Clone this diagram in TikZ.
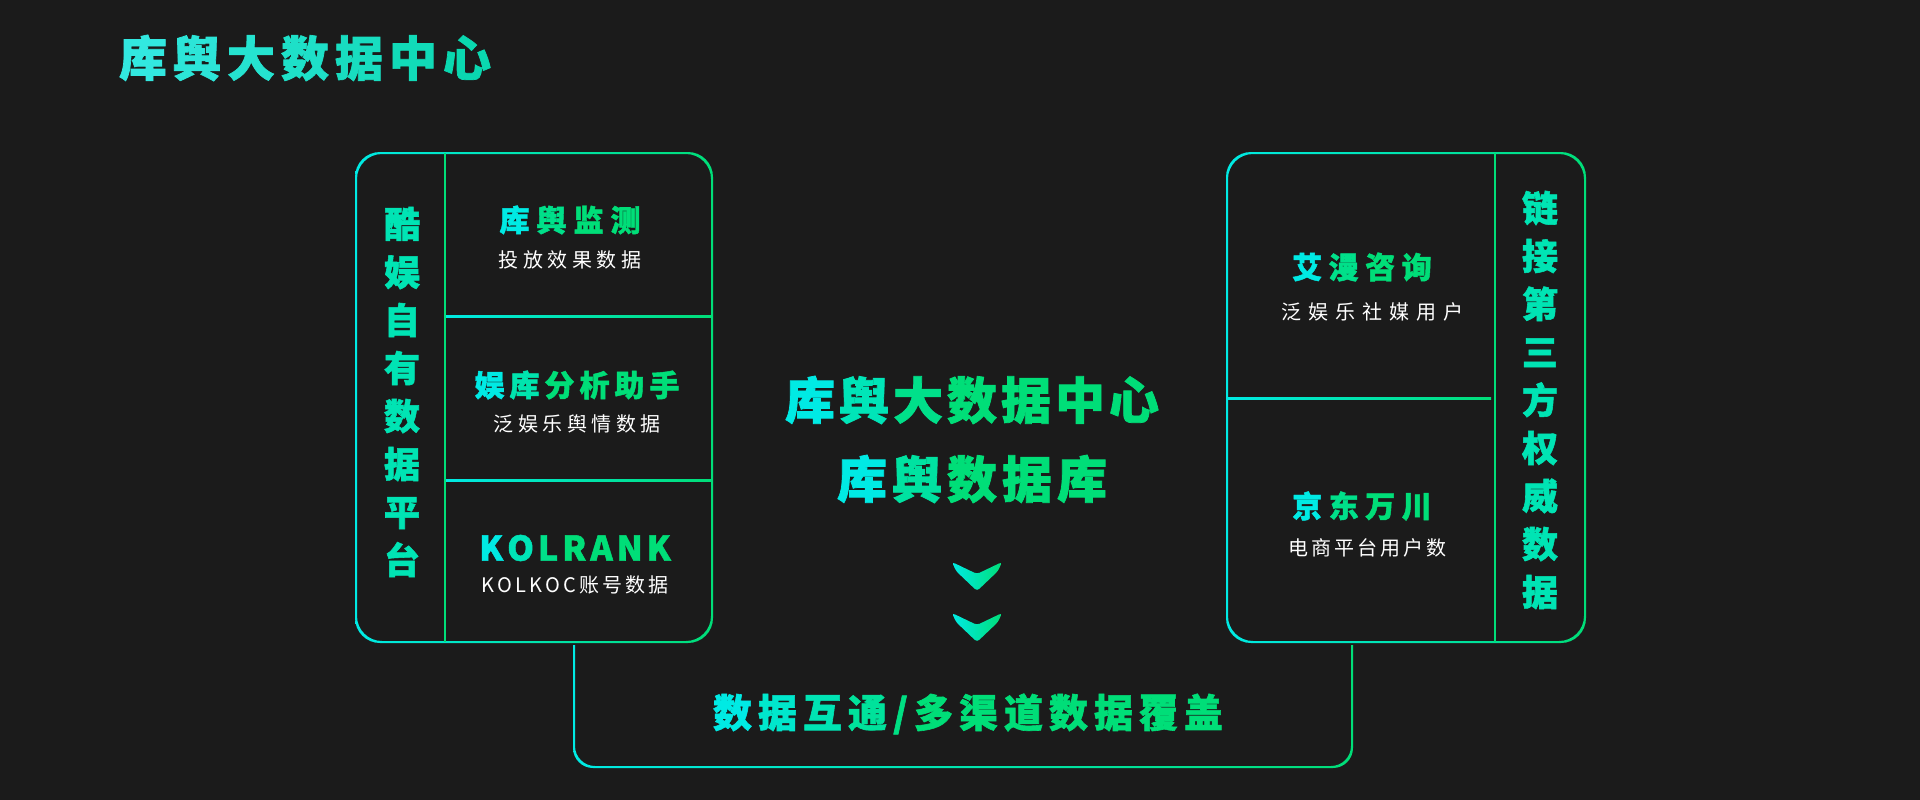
\documentclass[tikz,border=0pt]{standalone}
\usepackage{fontspec}
\setmainfont{Noto Sans CJK SC}[BoldFeatures={FakeBold=1.5}]
\usetikzlibrary{positioning}

\definecolor{bgc}{RGB}{27,27,27}
\definecolor{kcyan}{RGB}{0,234,228}
\definecolor{kgreen}{RGB}{0,222,120}
\definecolor{tcyan}{RGB}{50,232,224}
\definecolor{tgreen}{RGB}{10,216,176}

% one colour per character, from #1 to #2, #3 = gap
\def\gradk{250}
\newcommand\gtxt[4]{%
  \def\gtxtn{0}%
  \foreach \ch [count=\i] in {#4}{\xdef\gtxtn{\i}}%
  \foreach \ch [count=\i] in {#4}{%
    \pgfmathtruncatemacro\gtxtp{min(100,\gradk*(\i-1)/max(1,\gtxtn-1))}%
    \ifnum\i>1 \hspace{#3}\fi
    \textcolor{#2!\gtxtp!#1}{\ch}}}
\newcommand\wtxt[2]{\gtxt{white}{white}{#1}{#2}}

\tikzset{
  head/.style={inner sep=0pt, font=\fontsize{30}{30}\selectfont\bfseries},
  subline/.style={inner sep=0pt, font=\fontsize{20}{20}\selectfont},
  vert/.style={inner sep=0pt, align=center, text=kgreen!45!kcyan,
    font=\fontsize{36}{48}\selectfont\bfseries},
  big/.style={inner sep=0pt, font=\fontsize{50}{50}\selectfont\bfseries},
}

\begin{document}
\begin{tikzpicture}[x=1pt,y=-1pt]
    \def\r{25pt} % corner radius
    \fill[bgc] (0,0) rectangle (1920,800);
    \useasboundingbox (0,0) rectangle (1920,800);

    \node[inner sep=0pt, font=\fontsize{48}{48}\selectfont\bfseries] (tTitle) at (305,58)
      {\def\gradk{100}\gtxt{tcyan}{tgreen}{6pt}{库,舆,大,数,据,中,心}};

    % left box
    \shade[left color=kcyan, right color=kgreen, even odd rule, rounded corners=\r]
      (355,152) rectangle (713,643) (357,154) rectangle (711,641);
    \fill[kgreen] (444,153) rectangle (446,642);
    \shade[left color=kcyan, right color=kgreen] (446,315) rectangle (711,317);
    \shade[left color=kcyan, right color=kgreen] (446,479) rectangle (711,481);

    \node[vert] (lSide) at (402,392) {酷\\娱\\自\\有\\数\\据\\平\\台};
    \node[head] (lMon) at (570,220) {\gtxt{kcyan}{kgreen}{7pt}{库,舆,监,测}};
    \node[subline, below=16pt of lMon] (lMonSub) {\wtxt{4.5pt}{投,放,效,果,数,据}};
    \node[head] (lAna) at (577,385) {\gtxt{kcyan}{kgreen}{5pt}{娱,库,分,析,助,手}};
    \node[subline, below=15pt of lAna] (lAnaSub) {\wtxt{4.5pt}{泛,娱,乐,舆,情,数,据}};
    \node[head, font=\fontsize{34}{34}\selectfont\bfseries] (lKol) at (575,548)
      {\gtxt{kcyan}{kgreen}{4pt}{K,O,L,R,A,N,K}};
    \node[subline, below=14pt of lKol] (lKolSub) {\wtxt{3pt}{K,O,L,K,O,C,账,号,数,据}};

    % right box
    \shade[left color=kcyan, right color=kgreen, even odd rule, rounded corners=\r]
      (1226,152) rectangle (1586,643) (1228,154) rectangle (1584,641);
    \fill[kgreen] (1494,153) rectangle (1496,642);
    \shade[left color=kcyan, right color=kgreen] (1228,397) rectangle (1491,399);

    \node[vert] (rSide) at (1540,400) {链\\接\\第\\三\\方\\权\\威\\数\\据};
    \node[head] (rAim) at (1362,267) {\gtxt{kcyan}{kgreen}{6.5pt}{艾,漫,咨,询}};
    \node[subline, below=21pt of rAim, xshift=10pt] (rAimSub) {\wtxt{7pt}{泛,娱,乐,社,媒,用,户}};
    \node[head] (rJd) at (1362,506) {\gtxt{kcyan}{kgreen}{6.5pt}{京,东,万,川}};
    \node[subline, below=18pt of rJd, xshift=5pt] (rJdSub) {\wtxt{3pt}{电,商,平,台,用,户,数}};

    % centre
    \node[big] (cTitle) at (972,400) {\gtxt{kcyan}{kgreen}{4pt}{库,舆,大,数,据,中,心}};
    \node[big] (cBase) at (972,479) {\gtxt{kcyan}{kgreen}{5pt}{库,舆,数,据,库}};
    \foreach \dy in {0,51}
      \shade[left color=kcyan, right color=kgreen, rounded corners=3pt]
        (952,{562+\dy}) -- (977,{574+\dy}) -- (1002,{562+\dy}) -- (998,{571+\dy})
        -- (977,{591+\dy}) -- (956,{571+\dy}) -- cycle;

    % bottom
    \begin{scope}
      \clip (0,645) rectangle (1920,800);
      \shade[left color=kcyan, right color=kgreen, even odd rule, rounded corners=20pt]
        (573,560) rectangle (1353,768) (575,562) rectangle (1351,766);
    \end{scope}
    \node[inner sep=0pt, font=\fontsize{39}{39}\selectfont\bfseries] (bText) at (968,714)
      {\gtxt{kcyan}{kgreen}{6pt}{数,据,互,通,/,多,渠,道,数,据,覆,盖}};
\end{tikzpicture}
\end{document}
